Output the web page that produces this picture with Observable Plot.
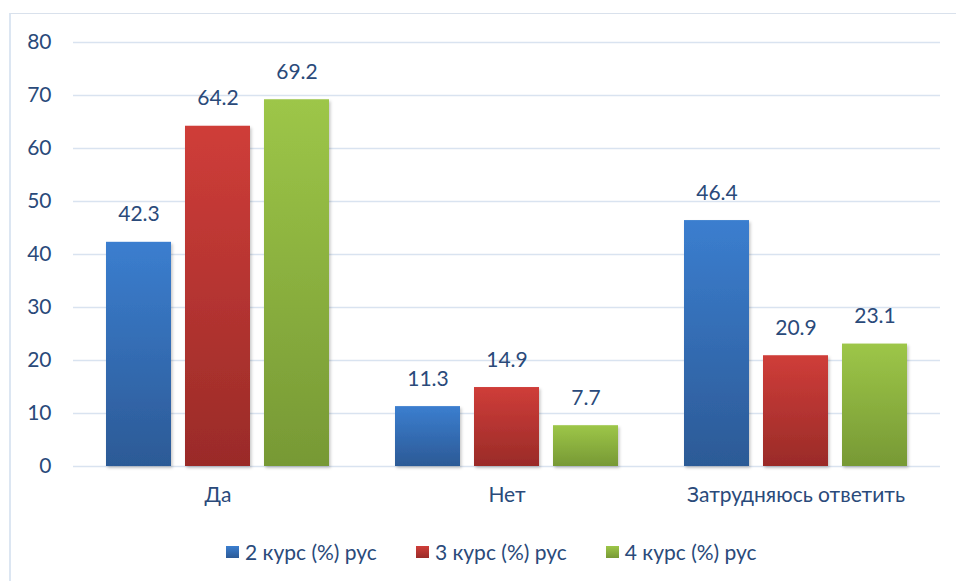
<!DOCTYPE html>
<html>
<head>
<meta charset="utf-8">
<script src="https://cdn.jsdelivr.net/npm/d3@7"></script>
<script src="https://cdn.jsdelivr.net/npm/@observablehq/plot@0.6"></script>
<style>
  html, body { margin: 0; padding: 0; background: #ffffff; }
  #wrap { position: relative; width: 956px; height: 581px; overflow: hidden; font-family: Lato, "Open Sans", sans-serif; }
  #frame { position: absolute; left: 9px; top: 13px; right: -2px; bottom: -2px; border-top: 1px solid #d9e1ec; border-left: 2px solid #dce6f2; }
  #chart { position: absolute; left: 0; top: 0; }
  #legend { position: absolute; left: 226px; top: 539px; display: flex; align-items: center; font-size: 21px; line-height: 25px; color: #2a4a7a; white-space: nowrap; }
  .item { display: flex; align-items: center; margin-right: 39px; }
  .sw { width: 13px; height: 12px; margin-right: 6px; }
</style>
</head>
<body>
<div id="wrap">
  <div id="frame"></div>
  <div id="chart"></div>
  <div id="legend"></div>
</div>
<script>
const categories = ["Да", "Нет", "Затрудняюсь ответить"];
const seriesNames = ["2 курс (%) рус", "3 курс (%) рус", "4 курс (%) рус"];
const course2 = [42.3, 11.3, 46.4];
const course3 = [64.2, 14.9, 20.9];
const course4 = [69.2, 7.7, 23.1];
const yTicks = [0, 10, 20, 30, 40, 50, 60, 70, 80];

const seriesValues = [course2, course3, course4];
const gradStops = [["#3b7ecf", "#2c5a96"], ["#cf3d39", "#9a2b28"], ["#9dc648", "#779935"]];
const gradIds = ["g-blue", "g-red", "g-green"];

const data = [];
categories.forEach((c, i) => {
  seriesNames.forEach((s, j) => data.push({category: c, series: s, value: seriesValues[j][i]}));
});

const textColor = "#2a4a7a";

const plot = Plot.plot({
  width: 956,
  height: 520,
  marginTop: 42,
  marginBottom: 54,
  marginLeft: 73,
  marginRight: 16,
  style: {fontFamily: "Lato, 'Open Sans', sans-serif", fontSize: "21px", color: textColor, background: "transparent"},
  fx: {domain: categories, padding: 0, label: null, tickSize: 0, tickPadding: 21, axis: "bottom"},
  x: {domain: seriesNames, axis: null, paddingInner: 0.175, paddingOuter: 0.394},
  y: {domain: [0, 80], ticks: yTicks, label: null, tickSize: 0, tickPadding: 22, tickFormat: d => String(d)},
  color: {domain: seriesNames, range: gradIds.map(id => `url(#${id})`)},
  marks: [
    Plot.gridY(yTicks, {stroke: "#d9e3f0", strokeOpacity: 1, strokeWidth: 1.5}),
    Plot.barY(data, {fx: "category", x: "series", y: "value", fill: "series"}),
    Plot.text(data, {fx: "category", x: "series", y: "value", text: d => d.value.toFixed(1), lineAnchor: "bottom", dy: -21, fill: textColor})
  ]
});

const svg = d3.select(plot);
const defs = svg.insert("defs", ":first-child");
gradIds.forEach((id, k) => {
  const g = defs.append("linearGradient").attr("id", id).attr("x1", 0).attr("y1", 0).attr("x2", 0).attr("y2", 1);
  g.append("stop").attr("offset", "0%").attr("stop-color", gradStops[k][0]);
  g.append("stop").attr("offset", "100%").attr("stop-color", gradStops[k][1]);
});
const f = defs.append("filter").attr("id", "shadow").attr("x", "-10%").attr("y", "-10%").attr("width", "130%").attr("height", "130%");
f.append("feDropShadow").attr("dx", 1.5).attr("dy", 2).attr("stdDeviation", 1.5).attr("flood-color", "#000").attr("flood-opacity", 0.22);
svg.selectAll("g[aria-label='bar'] rect").attr("filter", "url(#shadow)");

document.getElementById("chart").appendChild(plot);

const legend = d3.select("#legend");
seriesNames.forEach((s, k) => {
  const it = legend.append("div").attr("class", "item");
  it.append("div").attr("class", "sw").style("background", `linear-gradient(${gradStops[k][0]}, ${gradStops[k][1]})`);
  it.append("span").text(s);
});
</script>
</body>
</html>
